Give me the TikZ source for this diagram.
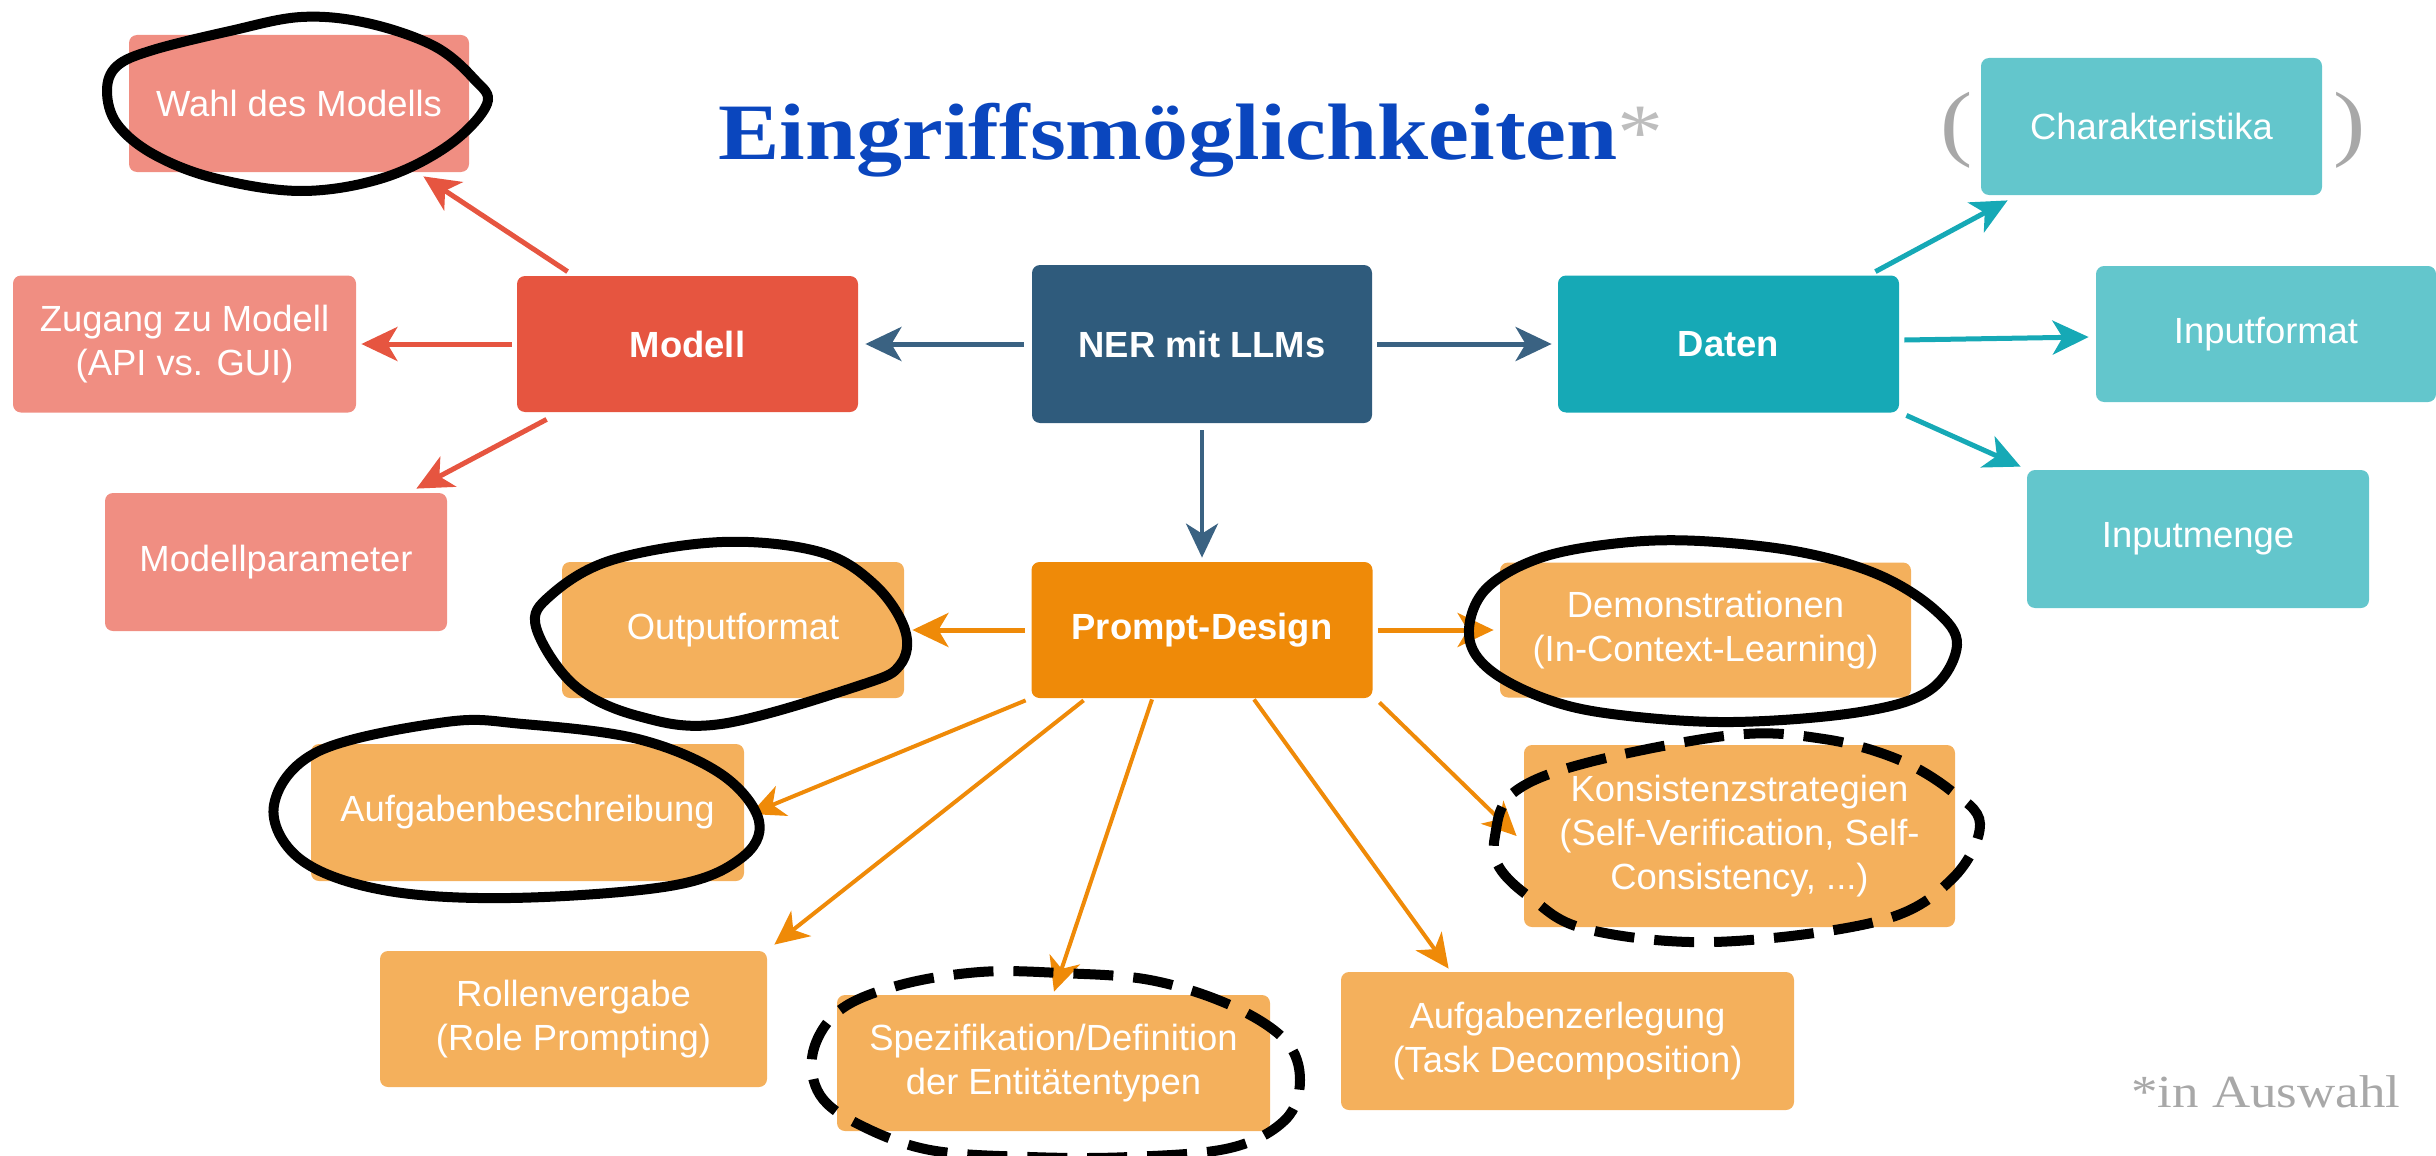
\documentclass[tikz,border=0pt]{standalone}
\usepackage{fontspec}
\newfontfamily\arial{Liberation Sans}
\newfontfamily\titleserif[FakeStretch=1.15]{Liberation Serif}
\usetikzlibrary{arrows.meta,calc}
\definecolor{modellRed}{HTML}{E65540}
\definecolor{lightRed}{HTML}{F08E82}
\definecolor{nerBlue}{HTML}{2F5B7C}
\definecolor{arrowBlue}{HTML}{3A6282}
\definecolor{datenTeal}{HTML}{16A9B6}
\definecolor{lightTeal}{HTML}{63C6CC}
\definecolor{promptOrange}{HTML}{EF8A08}
\definecolor{lightOrange}{HTML}{F4B05C}
\definecolor{titleBlue}{HTML}{0A46BE}
\definecolor{noteGray}{HTML}{A8A8A8}
\definecolor{starGray}{HTML}{BDBDBD}
\begin{document}
\begin{tikzpicture}[x=0.5pt,y=-0.5pt,
  box/.style={rectangle, rounded corners=4pt, inner sep=0pt, align=center, text=white,
    font=\arial\fontsize{18.2}{22}\selectfont},
  boldbox/.style={box, font=\arial\bfseries\fontsize{18.2}{22}\selectfont},
  arr/.style={line width=2.5pt, -{Stealth[length=18pt,width=17pt,inset=5pt]}},
  thinarr/.style={line width=2pt, -{Stealth[length=17pt,width=16pt,inset=5pt]}},
  hand/.style={line width=5pt, black, line join=round},
  handdash/.style={line width=5pt, black, dash pattern=on 20pt off 10pt}
]
\useasboundingbox (0,0) rectangle (2436,1156);

% title and notes
\node[anchor=base west, inner sep=0pt] (title) at (718,160)
  {\titleserif\bfseries\fontsize{40}{44}\selectfont\color{titleBlue}Eingriffsmöglichkeiten{\mdseries\color{starGray}*}};
\node[anchor=base west, inner sep=0pt] (note) at (2131,1107)
  {\titleserif\fontsize{23}{26}\selectfont\color{noteGray}*in Auswahl};

% boxes
\node[box, fill=lightRed, minimum width=170pt, minimum height=68.5pt] (wahl) at (299,103.5) {Wahl des Modells};
\node[box, fill=lightRed, minimum width=171.5pt, minimum height=68.5pt] (zugang) at (184.5,344) {Zugang zu Modell\\(API vs. GUI)};
\node[boldbox, fill=modellRed, minimum width=170.5pt, minimum height=68pt] (modell) at (687.5,344) {Modell};
\node[box, fill=lightRed, minimum width=171pt, minimum height=69pt] (mparam) at (276,562) {Modellparameter};

\node[boldbox, fill=nerBlue, minimum width=170pt, minimum height=79pt] (ner) at (1202,344) {NER mit LLMs};

\node[boldbox, fill=datenTeal, minimum width=170.5pt, minimum height=68.5pt] (daten) at (1728.5,344) {Daten};
\node[box, fill=lightTeal, minimum width=170.5pt, minimum height=68.5pt] (charak) at (2151.5,126.5) {Charakteristika};
\node[box, fill=lightTeal, minimum width=170pt, minimum height=68pt] (inputformat) at (2266,334) {Inputformat};
\node[box, fill=lightTeal, minimum width=171pt, minimum height=69pt] (inputmenge) at (2198,539) {Inputmenge};

\node[anchor=center, inner sep=0pt] (lpar) at (1957,130) {\titleserif\fontsize{42}{44}\selectfont\color{noteGray}(};
\node[anchor=center, inner sep=0pt] (rpar) at (2350,130) {\titleserif\fontsize{42}{44}\selectfont\color{noteGray})};

\node[boldbox, fill=promptOrange, minimum width=170.5pt, minimum height=68pt] (prompt) at (1202,630) {Prompt-Design};
\node[box, fill=lightOrange, minimum width=171pt, minimum height=68pt] (outputformat) at (733,630) {Outputformat};
\node[box, fill=lightOrange, minimum width=205.5pt, minimum height=67.5pt] (demo) at (1705.5,630) {Demonstrationen\\(In-Context-Learning)};
\node[box, fill=lightOrange, minimum width=216.5pt, minimum height=68.5pt] (aufgbeschr) at (527.5,812.5) {Aufgabenbeschreibung};
\node[box, fill=lightOrange, minimum width=215.5pt, minimum height=91pt] (konsistenz) at (1739.5,836) {Konsistenzstrategien\\(Self-Verification, Self-\\Consistency, ...)};
\node[box, fill=lightOrange, minimum width=193.5pt, minimum height=68pt] (rollen) at (573.5,1019) {Rollenvergabe\\(Role Prompting)};
\node[box, fill=lightOrange, minimum width=216.5pt, minimum height=68pt] (spez) at (1053.5,1063) {Spezifikation/Definition\\der Entitätentypen};
\node[box, fill=lightOrange, minimum width=226.5pt, minimum height=69pt] (aufgzerl) at (1567.5,1041) {Aufgabenzerlegung\\(Task Decomposition)};

% arrows Modell
\draw[arr, modellRed] ($(modell.north west)+(51,-4)$) -- ($(wahl.south east)+(-46,4)$);
\draw[arr, modellRed] ($(modell.west)+(-5,0)$) -- ($(zugang.east)+(5,0)$);
\draw[arr, modellRed] ($(modell.south west)+(30,7)$) -- ($(mparam.north east)+(-31,-4)$);
% arrows NER
\draw[arr, arrowBlue] ($(ner.west)+(-8,0)$) -- ($(modell.east)+(7,0)$);
\draw[arr, arrowBlue] ($(ner.east)+(5,0)$) -- ($(daten.west)+(-6,0)$);
\draw[thinarr, arrowBlue] ($(ner.south)+(0,7)$) -- ($(prompt.north)+(0,-4)$);
% arrows Daten
\draw[arr, datenTeal] ($(daten.north east)+(-24,-3.5)$) -- ($(charak.south west)+(27,5)$);
\draw[arr, datenTeal] ($(daten.east)+(5,-4)$) -- ($(inputformat.west)+(-7,3)$);
\draw[arr, datenTeal] ($(daten.south east)+(7,2.5)$) -- ($(inputmenge.north west)+(-6,-3)$);
% arrows Prompt
\draw[arr, promptOrange] ($(prompt.west)+(-6,0)$) -- ($(outputformat.east)+(8,0)$);
\draw[arr, promptOrange] ($(prompt.east)+(5,0)$) -- ($(demo.west)+(-6,0)$);
\draw[thinarr, promptOrange] ($(prompt.south west)+(-5.5,2)$) -- ($(aufgbeschr.east)+(6,1.5)$);
\draw[thinarr, promptOrange] ($(prompt.south west)+(52.5,2)$) -- ($(rollen.north east)+(7,-6)$);
\draw[thinarr, promptOrange] ($(prompt.south)+(-50,1)$) -- ($(spez.north)+(0.5,-3)$);
\draw[thinarr, promptOrange] ($(prompt.south)+(52,1)$) -- ($(aufgzerl.north west)+(108,-3)$);
\draw[thinarr, promptOrange] ($(prompt.south east)+(6.5,4)$) -- ($(konsistenz.west)+(-7,0)$);

% hand-drawn highlights
\draw[hand] plot[smooth cycle, tension=0.6] coordinates {(301,17) (367,23) (434,46) (474,79) (487,104) (449,145) (383,178) (301,191) (214,178) (153,154) (117,124) (107,91) (117,66) (153,50) (230,31)};
\draw[hand] plot[smooth cycle, tension=0.6] coordinates {(536,627) (551,595) (612,560) (722,542) (820,552) (875,585) (905,630) (900,665) (861,685) (721,724) (638,716) (574,685)};
\draw[hand] plot[smooth cycle, tension=0.6] coordinates {(274,805) (319,751) (446,722) (523,724) (638,739) (721,774) (759,821) (740,859) (670,886) (510,898) (383,890) (300,859)};
\draw[hand] plot[smooth cycle, tension=0.6] coordinates {(1469,635) (1485,590) (1540,558) (1620,543) (1700,541) (1800,552) (1879,575) (1935,610) (1957,645) (1930,690) (1860,712) (1733,722) (1620,715) (1549,700) (1490,670)};
\draw[handdash] plot[smooth cycle, tension=0.6] coordinates {(813,1052) (840,1010) (900,985) (980,972) (1060,973) (1150,980) (1230,1005) (1285,1040) (1300,1080) (1285,1120) (1230,1148) (1130,1157) (1030,1157) (930,1150) (860,1125) (820,1095)};
\draw[handdash] plot[smooth cycle, tension=0.6] coordinates {(1495,836) (1513,793) (1586,763) (1733,735) (1824,739) (1897,759) (1950,790) (1980,824) (1952,879) (1879,921) (1714,942) (1586,929) (1531,898) (1499,867)};
\end{tikzpicture}
\end{document}
